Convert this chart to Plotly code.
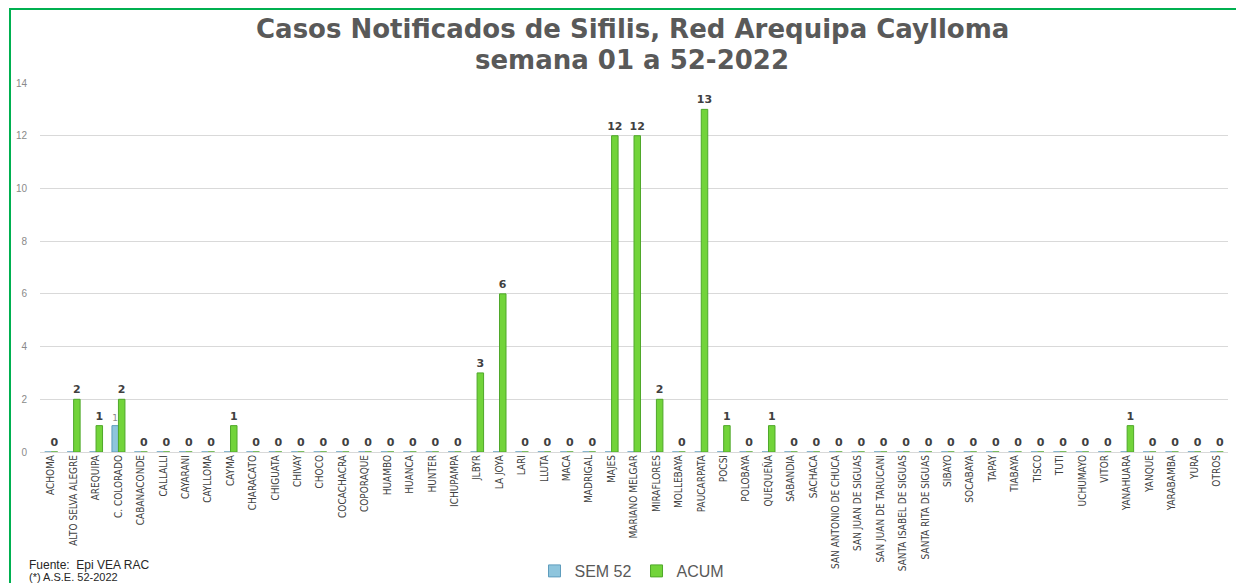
import plotly.graph_objects as go

categories = ["ACHOMA", "ALTO SELVA ALEGRE", "AREQUIPA", "C. COLORADO", "CABANACONDE", "CALLALLI",
              "CAYARANI", "CAYLLOMA", "CAYMA", "CHARACATO", "CHIGUATA", "CHIVAY", "CHOCO",
              "COCACHACRA", "COPORAQUE", "HUAMBO", "HUANCA", "HUNTER", "ICHUPAMPA", "JLBYR",
              "LA JOYA", "LARI", "LLUTA", "MACA", "MADRIGAL", "MAJES", "MARIANO MELGAR",
              "MIRAFLORES", "MOLLEBAYA", "PAUCARPATA", "POCSI", "POLOBAYA", "QUEQUEÑA",
              "SABANDIA", "SACHACA", "SAN ANTONIO DE CHUCA", "SAN JUAN DE SIGUAS",
              "SAN JUAN DE TARUCANI", "SANTA ISABEL DE SIGUAS", "SANTA RITA DE SIGUAS",
              "SIBAYO", "SOCABAYA", "TAPAY", "TIABAYA", "TISCO", "TUTI", "UCHUMAYO", "VITOR",
              "YANAHUARA", "YANQUE", "YARABAMBA", "YURA", "OTROS"]

sem52 = [0, 0, 0, 1, 0, 0, 0, 0, 0, 0, 0, 0, 0, 0, 0, 0, 0, 0, 0, 0,
         0, 0, 0, 0, 0, 0, 0, 0, 0, 0, 0, 0, 0, 0, 0, 0, 0, 0, 0, 0,
         0, 0, 0, 0, 0, 0, 0, 0, 0, 0, 0, 0, 0]

acum = [0, 2, 1, 2, 0, 0, 0, 0, 1, 0, 0, 0, 0, 0, 0, 0, 0, 0, 0, 3,
        6, 0, 0, 0, 0, 12, 12, 2, 0, 13, 1, 0, 1, 0, 0, 0, 0, 0, 0, 0,
        0, 0, 0, 0, 0, 0, 0, 0, 1, 0, 0, 0, 0]

y_ticks = [0, 2, 4, 6, 8, 10, 12, 14]

title_line1 = "Casos Notificados de Sifilis, Red Arequipa Caylloma"
title_line2 = "semana 01 a 52-2022"
footer1 = "Fuente:  Epi VEA RAC"
footer2 = "(*) A.S.E. 52-2022"

# page has an 8px body margin: figure coords = page coords - 8
OFF = 8
W, H = 1244 - OFF, 583 - OFF
# plot area in page pixels: x 40..1228, y 83..452
L, R, T, B = 40 - OFF, 1244 - 1228, 83 - OFF, 583 - 452
ph = H - T - B
pw = W - L - R


def py(y_page):
    y = y_page - OFF
    return (H - B - y) / ph


def px(x_page):
    x = x_page - OFF
    return (x - L) / pw


fig = go.Figure()
fig.add_trace(go.Bar(
    name="SEM 52", x=categories, y=sem52,
    text=[str(v) if v else "" for v in sem52],
    textposition="outside", constraintext="none", cliponaxis=False,
    textfont=dict(family="DejaVu Sans", size=9, color="#8a8a8a"),
    marker=dict(color="#8EC5DD", line=dict(color="#5F9DBD", width=1)),
))
fig.add_trace(go.Bar(
    name="ACUM", x=categories, y=acum,
    text=[str(v) for v in acum],
    textposition="outside", constraintext="none", cliponaxis=False,
    textfont=dict(family="DejaVu Sans", size=11, color="#404040", weight="bold"),
    marker=dict(color="#72D43A", line=dict(color="#4FA82A", width=1)),
))

fig.update_layout(
    width=W, height=H,
    margin=dict(l=L, r=R, t=T, b=B, autoexpand=False),
    paper_bgcolor="white", plot_bgcolor="white",
    barmode="group", bargap=0.42, bargroupgap=0.0,
    font=dict(family="Liberation Sans, Arial", color="#595959"),
    legend=dict(orientation="h", x=px(632), y=py(571), xanchor="center", yanchor="middle",
                font=dict(family="Liberation Sans, Arial", size=16, color="#595959"),
                itemwidth=30, traceorder="normal"),
    showlegend=True,
)
fig.update_xaxes(
    tickangle=-90, tickfont=dict(family="Liberation Sans Narrow, DejaVu Sans Condensed, Arial Narrow",
                                 size=10, color="#404040"),
    showgrid=False, showline=False, ticks="", fixedrange=True,
)
fig.update_yaxes(
    range=[0, 14], tickvals=y_ticks, showgrid=True, gridcolor="#D9D9D9", gridwidth=1,
    zeroline=True, zerolinecolor="#D9D9D9", zerolinewidth=1,
    tickfont=dict(family="Liberation Sans, Arial", size=10, color="#8a8a8a"),
    ticklabelstandoff=12, showline=False,
)

fig.add_annotation(text="<b>" + title_line1 + "</b>", xref="paper", yref="paper",
                   x=px(632), y=py(29), xanchor="center", yanchor="middle", showarrow=False,
                   borderpad=0, font=dict(family="DejaVu Sans", size=26, color="#595959"))
fig.add_annotation(text="<b>" + title_line2 + "</b>", xref="paper", yref="paper",
                   x=px(632), y=py(60), xanchor="center", yanchor="middle", showarrow=False,
                   borderpad=0, font=dict(family="DejaVu Sans", size=26, color="#595959"))
fig.add_annotation(text=footer1, xref="paper", yref="paper", x=px(27), y=py(565),
                   xanchor="left", yanchor="middle", showarrow=False,
                   font=dict(family="Liberation Sans, Arial", size=12, color="#262626"))
fig.add_annotation(text=footer2, xref="paper", yref="paper", x=px(27), y=py(577),
                   xanchor="left", yanchor="middle", showarrow=False,
                   font=dict(family="Liberation Sans, Arial", size=11, color="#262626"))

fig.add_shape(type="rect", xref="paper", yref="paper",
              x0=px(10), x1=px(1260), y0=py(600), y1=py(9),
              line=dict(color="#00B050", width=2), fillcolor="rgba(0,0,0,0)", layer="above")

fig.write_html("out.html")
